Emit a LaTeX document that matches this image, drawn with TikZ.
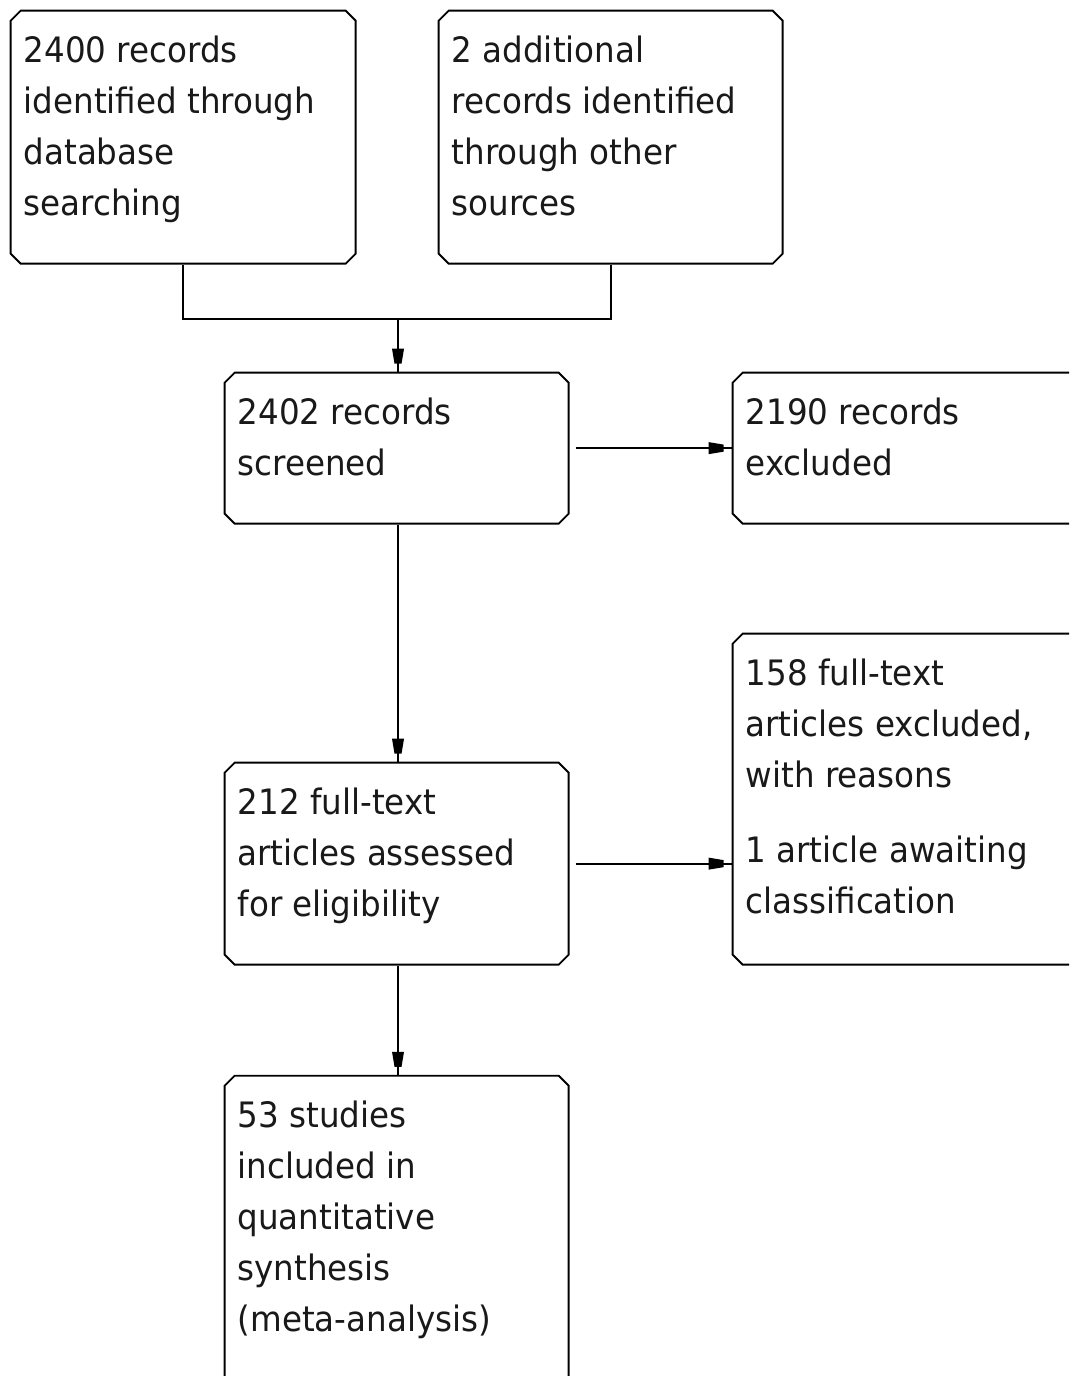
\documentclass[tikz,border=0pt]{standalone}
\usepackage{fontspec}
\setmainfont[FakeStretch=0.93]{DejaVu Sans}
\usetikzlibrary{shapes.misc,decorations.markings}
\newcommand{\boxtext}[3]{\parbox[t][#2][t]{#1}{\raggedright\fontsize{35}{51}\selectfont\rule{0pt}{47pt}#3}}
\tikzset{
  flowbox/.style={chamfered rectangle, chamfered rectangle xsep=5pt, chamfered rectangle ysep=5pt,
    draw=black, line width=1.8pt, inner xsep=8pt, inner ysep=0pt, anchor=north west, text=black!90},
  conn/.style={line width=1.8pt, draw=black},
  arr/.style={conn, postaction={decorate}, decoration={markings,
    mark=at position -15pt with {\fill[black] (-8pt,-6pt) -- (7pt,-3.5pt) -- (7pt,3.5pt) -- (-8pt,6pt) -- cycle;}}}
}
\begin{document}
\begin{tikzpicture}[x=1pt,y=-1pt]
\useasboundingbox (0,0) rectangle (1069,1376);
\clip (0,0) rectangle (1069,1376);
\fill[white] (0,0) rectangle (1069,1376);
\node[flowbox] (A) at (15,15) {\boxtext{319pt}{243pt}{2400 records\\identified through\\database\\searching}};
\node[flowbox] (B) at (443,15) {\boxtext{318pt}{243pt}{2 additional\\records identified\\through other\\sources}};
\node[flowbox] (C) at (229,377) {\boxtext{318pt}{141pt}{2402 records\\screened}};
\node[flowbox] (D) at (737,377) {\boxtext{360pt}{141pt}{2190 records\\excluded}};
\node[flowbox] (E) at (229,767) {\boxtext{318pt}{192pt}{212 full-text\\articles assessed\\for eligibility}};
\node[flowbox] (F) at (737,638) {\boxtext{360pt}{321pt}{158 full-text\\articles excluded,\\with reasons\\[24pt]1 article awaiting\\classification}};
\node[flowbox] (G) at (229,1080) {\boxtext{318pt}{320pt}{53 studies\\included in\\quantitative\\synthesis\\(meta-analysis)}};
\coordinate (J) at (398,319);
\draw[conn] (A.south) |- (J) -| (B.south);
\draw[arr] (J) -- (J |- C.north);
\draw[arr, shorten <=6pt] (C.east) -- (C.east -| D.west);
\draw[arr] (J |- C.south) -- (J |- E.north);
\draw[arr, shorten <=6pt] (E.east) -- (E.east -| F.west);
\draw[arr] (J |- E.south) -- (J |- G.north);
\end{tikzpicture}
\end{document}
